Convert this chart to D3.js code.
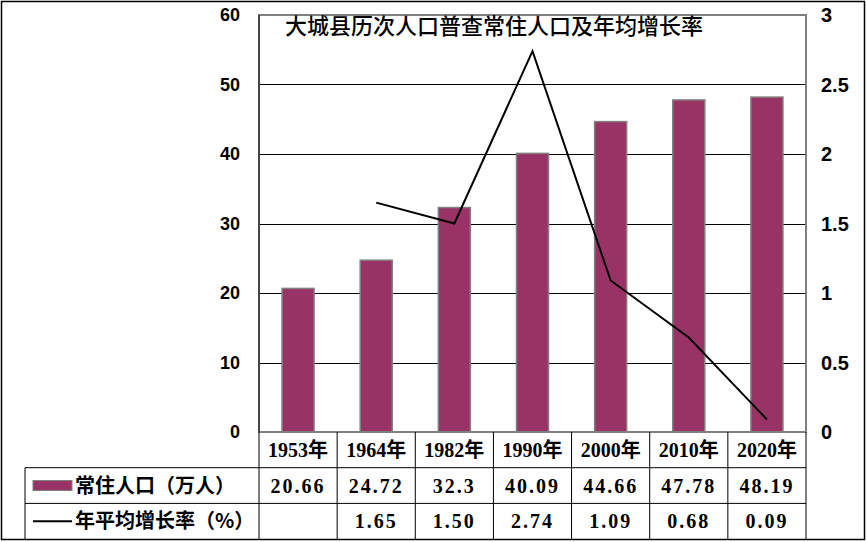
<!DOCTYPE html>
<html>
<head>
<meta charset="utf-8">
<script src="https://cdn.jsdelivr.net/npm/d3@7"></script>
<style>
  body { margin: 0; background: #fff; }
  svg { display: block; }
</style>
</head>
<body>
<div id="chart"></div>
<script>
// chart data
var years = ["1953年", "1964年", "1982年", "1990年", "2000年", "2010年", "2020年"]
var population = [20.66, 24.72, 32.3, 40.09, 44.66, 47.78, 48.19]
var growth = [null, 1.65, 1.50, 2.74, 1.09, 0.68, 0.09]
var popLabels = ["20.66", "24.72", "32.3", "40.09", "44.66", "47.78", "48.19"]
var growthLabels = ["", "1.65", "1.50", "2.74", "1.09", "0.68", "0.09"]
var leftTicks = [0, 10, 20, 30, 40, 50, 60]
var rightTicks = [0, 0.5, 1, 1.5, 2, 2.5, 3]
var title = "大城县历次人口普查常住人口及年均增长率"
var seriesNames = ["常住人口（万人）", "年平均增长率（%）"]

const width = 867, height = 542
const plot = { left: 259, right: 806, top: 15, bottom: 432 }
const rowH = 35.7
const tableLeft = 25

const barColor = "#993366"
const numFont = "'Liberation Serif', 'Noto Sans CJK SC', serif"
const axisFont = "'Liberation Sans', Arial, sans-serif"
const cjkFont = "'Noto Sans CJK SC', sans-serif"

const svg = d3.select("#chart")
  .append("svg")
    .attr("width", width)
    .attr("height", height)

// outer frame
svg.append("rect")
  .attr("x", 1.5).attr("y", 1.5)
  .attr("width", 863).attr("height", 538)
  .attr("fill", "none")
  .attr("stroke", "#000")
  .attr("stroke-width", 1.5)

const x = d3.scaleBand()
  .domain(years)
  .range([plot.left, plot.right])
  .padding(0)

const y = d3.scaleLinear()
  .domain([0, 60])
  .range([plot.bottom, plot.top])

const y2 = d3.scaleLinear()
  .domain([0, 3])
  .range([plot.bottom, plot.top])

// horizontal gridlines
svg.selectAll(".grid")
  .data(leftTicks.slice(1, -1))
  .join("line")
  .attr("x1", plot.left)
  .attr("x2", plot.right)
  .attr("y1", d => Math.round(y(d)) + 0.5)
  .attr("y2", d => Math.round(y(d)) + 0.5)
  .attr("stroke", "#000")
  .attr("stroke-width", 1)

// bars
const bw = x.bandwidth() * 0.41
svg.selectAll(".bar")
  .data(population)
  .join("rect")
  .attr("x", (d, i) => x(years[i]) + (x.bandwidth() - bw) / 2)
  .attr("y", d => y(d))
  .attr("width", bw)
  .attr("height", d => plot.bottom - y(d))
  .attr("fill", barColor)
  .attr("stroke", "#808080")
  .attr("stroke-width", 1.5)

// plot border (gray) and left axis
svg.append("rect")
  .attr("x", plot.left).attr("y", plot.top)
  .attr("width", plot.right - plot.left)
  .attr("height", plot.bottom - plot.top)
  .attr("fill", "none")
  .attr("stroke", "#808080")
  .attr("stroke-width", 2)
svg.append("line")
  .attr("x1", plot.left).attr("x2", plot.left)
  .attr("y1", plot.top).attr("y2", plot.bottom)
  .attr("stroke", "#333")
  .attr("stroke-width", 1.5)

// growth line
const pts = growth.map((d, i) => ({ year: years[i], v: d })).filter(d => d.v != null)
svg.append("path")
  .datum(pts)
  .attr("fill", "none")
  .attr("stroke", "#000")
  .attr("stroke-width", 2)
  .attr("d", d3.line()
    .x(d => x(d.year) + x.bandwidth() / 2)
    .y(d => y2(d.v)))

// left axis labels
svg.selectAll(".ly")
  .data(leftTicks)
  .join("text")
  .attr("x", 240)
  .attr("y", d => y(d))
  .attr("dy", "0.36em")
  .attr("text-anchor", "end")
  .style("font-family", axisFont)
  .style("font-weight", "bold")
  .style("font-size", "18px")
  .text(d => d)

// right axis labels
svg.selectAll(".ry")
  .data(rightTicks)
  .join("text")
  .attr("x", 821)
  .attr("y", d => y2(d))
  .attr("dy", "0.36em")
  .attr("text-anchor", "start")
  .style("font-family", axisFont)
  .style("font-weight", "bold")
  .style("font-size", "20px")
  .text(d => d)

// title
svg.append("text")
  .attr("x", 285)
  .attr("y", 34)
  .style("font-family", cjkFont)
  .style("font-weight", "500")
  .style("font-size", "22px")
  .text(title)

// data table
const t0 = plot.bottom
const tableLines = svg.append("g")
  .attr("stroke", "#000")
  .attr("stroke-width", 1)
// horizontal row lines
tableLines.append("line")
  .attr("x1", tableLeft).attr("x2", plot.right)
  .attr("y1", t0 + rowH).attr("y2", t0 + rowH)
tableLines.append("line")
  .attr("x1", tableLeft).attr("x2", plot.right)
  .attr("y1", t0 + rowH * 2).attr("y2", t0 + rowH * 2)
// vertical lines
tableLines.append("line")
  .attr("x1", tableLeft).attr("x2", tableLeft)
  .attr("y1", t0 + rowH).attr("y2", 540)
tableLines.selectAll(".vl")
  .data(years.concat(["end"]))
  .join("line")
  .attr("x1", (d, i) => plot.left + i * x.bandwidth())
  .attr("x2", (d, i) => plot.left + i * x.bandwidth())
  .attr("y1", t0)
  .attr("y2", 540)

function rowText(labels, row, spacing) {
  svg.selectAll(".row" + row)
    .data(labels)
    .join("text")
    .attr("x", (d, i) => x(years[i]) + x.bandwidth() / 2)
    .attr("y", t0 + rowH * row + rowH / 2)
    .attr("dy", "0.36em")
    .attr("text-anchor", "middle")
    .style("font-family", numFont)
    .style("font-weight", "bold")
    .style("font-size", "20px")
    .style("letter-spacing", spacing)
    .text(d => d)
}
rowText(years, 0, "0px")
rowText(popLabels, 1, "2px")
rowText(growthLabels, 2, "2px")

// legend cells
svg.append("rect")
  .attr("x", 33).attr("y", t0 + rowH * 1.5 - 5)
  .attr("width", 39).attr("height", 10)
  .attr("fill", barColor)
  .attr("stroke", "#808080")
  .attr("stroke-width", 1)
svg.append("line")
  .attr("x1", 33).attr("x2", 72)
  .attr("y1", t0 + rowH * 2.5).attr("y2", t0 + rowH * 2.5)
  .attr("stroke", "#000")
  .attr("stroke-width", 2)
svg.selectAll(".legtext")
  .data(seriesNames)
  .join("text")
  .attr("x", 75)
  .attr("y", (d, i) => t0 + rowH * (i + 1.5))
  .attr("dy", "0.36em")
  .style("font-family", cjkFont)
  .style("font-weight", "bold")
  .style("font-size", "20px")
  .text(d => d)
</script>
</body>
</html>
